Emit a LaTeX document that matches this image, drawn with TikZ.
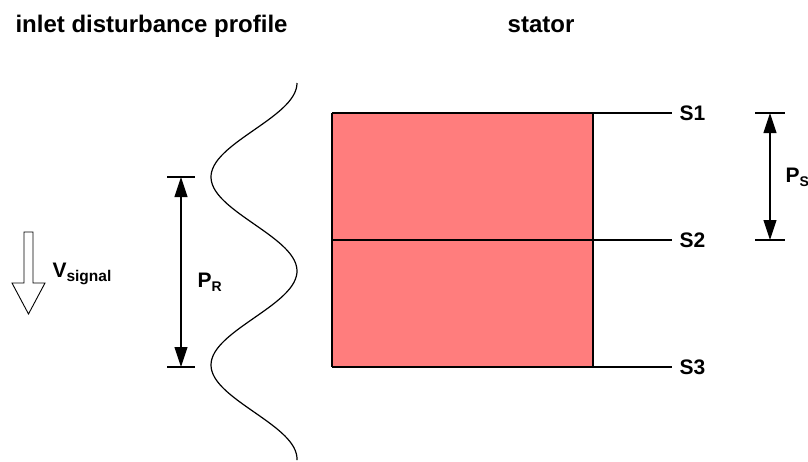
\documentclass[tikz,border=0pt]{standalone}
\usepackage{fontspec}
\setmainfont{Liberation Sans}
\usetikzlibrary{arrows.meta}

\definecolor{statorred}{RGB}{255,125,125}

\newcommand{\lowsub}[3][14]{#2\raisebox{-4pt}{\fontsize{#1}{#1}\selectfont #3}}

\tikzset{
  title/.style={font=\bfseries\fontsize{24}{28}\selectfont, inner sep=0pt},
  lbl/.style={font=\bfseries\fontsize{21}{24}\selectfont, inner sep=0pt},
  dimarrow/.style={line width=1.1pt, {Triangle[length=20pt,width=13pt]}-{Triangle[length=20pt,width=13pt]}},
  tick/.style={line width=1.1pt}
}

\begin{document}
\begin{tikzpicture}[x=1pt, y=-1pt, line width=1.1pt]
  \useasboundingbox (0,0) rectangle (808,461);

  % Titles
  \node[title, anchor=base west] (tinlet) at (15,32) {inlet disturbance profile};
  \node[title, anchor=base] (tstator) at (541,32) {stator};

  % Signal velocity (hollow arrow)
  \draw[line width=0.9pt] (24,232) -- (33,232) -- (33,283) -- (45,283)
    -- (28.5,314) -- (12,283) -- (24,283) -- cycle;
  \node[lbl, anchor=base west] (vsig) at (52,277) {\lowsub[15.5]{V}{signal}};

  % Inlet disturbance: one full wave from y=177 to y=365
  \draw[line width=1.2pt] plot[domain=83:460, samples=120, smooth]
    ({254+43*cos(1.915*(\x-83))}, \x);

  % Rotor pitch P_R
  \coordinate (PRt) at (181,177);
  \coordinate (PRb) at (181,367);
  \draw[tick] (167,177) -- (195,177);
  \draw[tick] (167,367) -- (195,367);
  \draw[dimarrow] (PRt) -- (PRb);
  \node[lbl, anchor=base west] (pr) at (197,287) {\lowsub{P}{R}};

  % Stator passages
  \coordinate (S1) at (332,113);
  \coordinate (S2) at (332,240);
  \coordinate (S3) at (332,367);
  \fill[statorred] (S1) rectangle (593,367);
  \draw (S1) -- (672,113);
  \draw (S2) -- (672,240);
  \draw (S3) -- (672,367);
  \draw (S1) -- (S3);
  \draw (593,113) -- (593,367);
  \node[lbl, anchor=west] (s1) at (679,113) {S1};
  \node[lbl, anchor=west] (s2) at (679,240) {S2};
  \node[lbl, anchor=west] (s3) at (679,367) {S3};

  % Stator pitch P_S
  \coordinate (PSt) at (770,113);
  \coordinate (PSb) at (770,240);
  \draw[tick] (755,113) -- (785,113);
  \draw[tick] (755,240) -- (785,240);
  \draw[dimarrow] (PSt) -- (PSb);
  \node[lbl, anchor=base west] (ps) at (785,182) {\lowsub{P}{S}};
\end{tikzpicture}
\end{document}
